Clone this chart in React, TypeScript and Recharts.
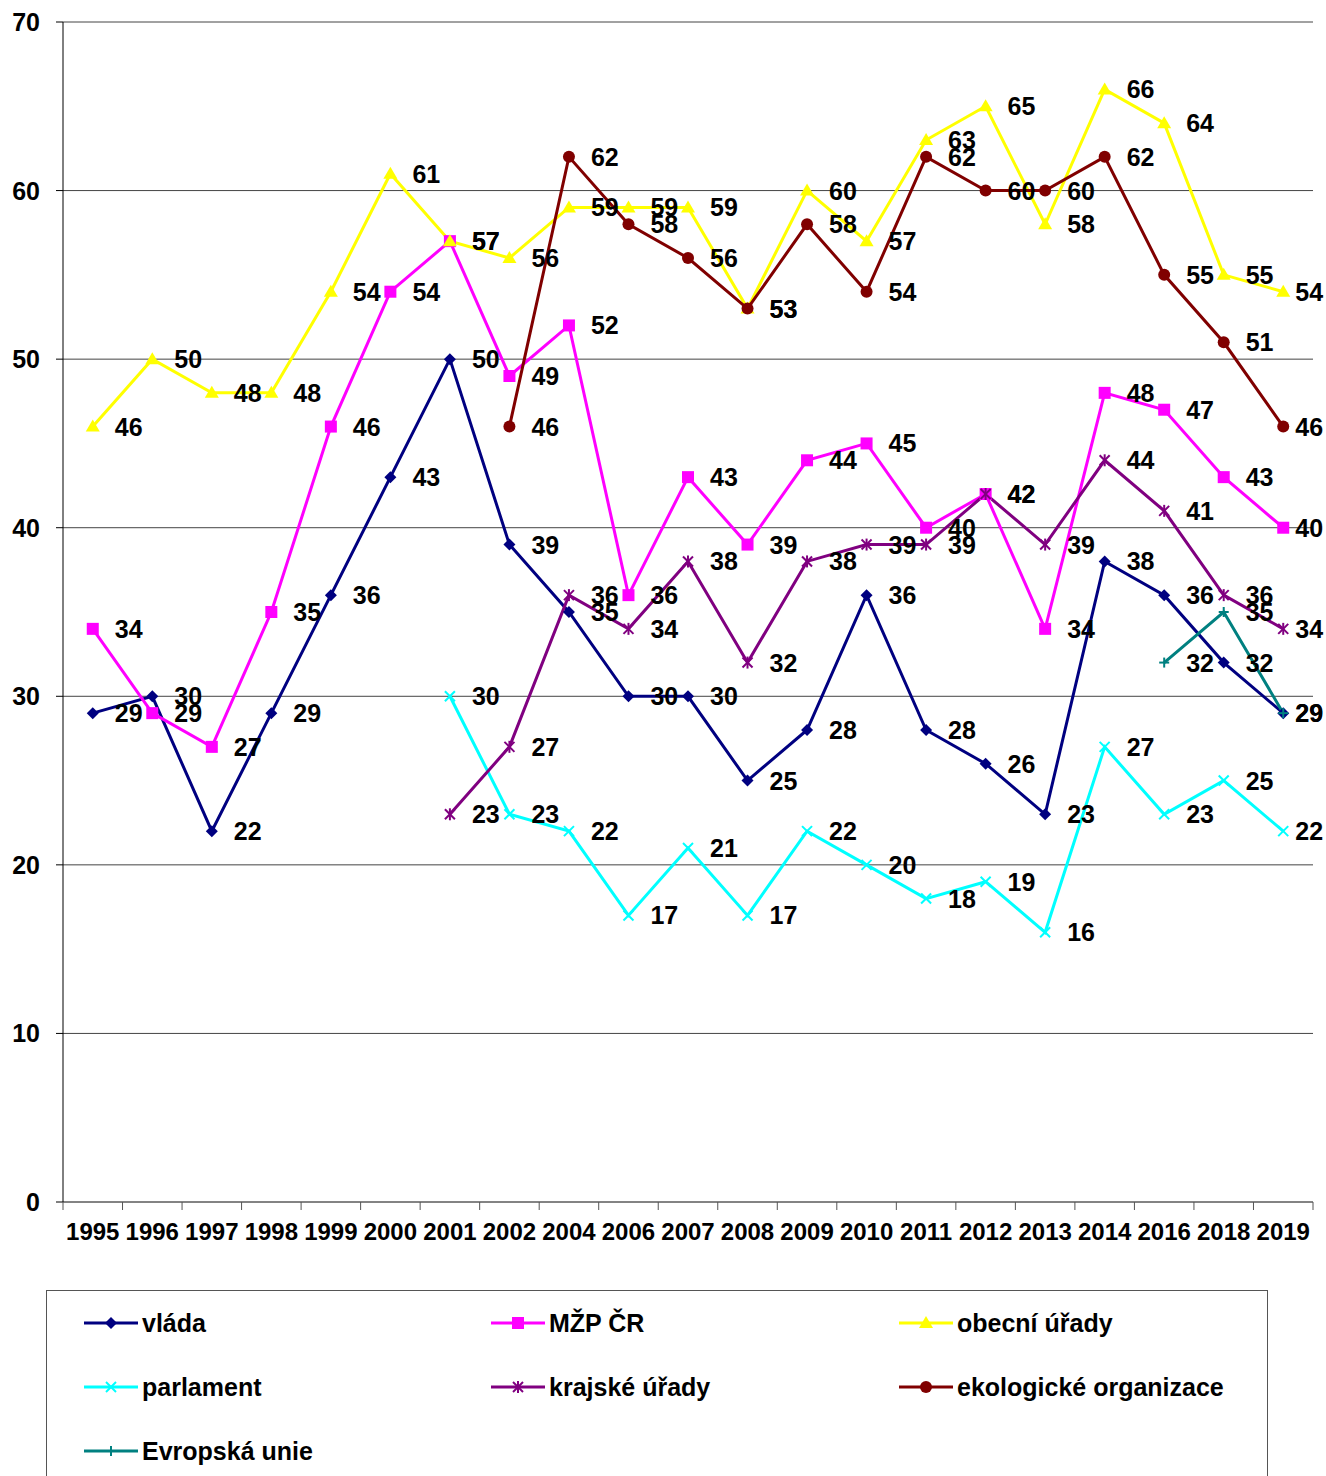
import React from 'react';
import { LineChart, Line, XAxis, YAxis, CartesianGrid, LabelList } from 'recharts';

const years = ['1995', '1996', '1997', '1998', '1999', '2000', '2001', '2002', '2004', '2006', '2007',
  '2008', '2009', '2010', '2011', '2012', '2013', '2014', '2016', '2018', '2019'];

const vlada = [29, 30, 22, 29, 36, 43, 50, 39, 35, 30, 30, 25, 28, 36, 28, 26, 23, 38, 36, 32, 29];
const mzp = [34, 29, 27, 35, 46, 54, 57, 49, 52, 36, 43, 39, 44, 45, 40, 42, 34, 48, 47, 43, 40];
const obecni = [46, 50, 48, 48, 54, 61, 57, 56, 59, 59, 59, 53, 60, 57, 63, 65, 58, 66, 64, 55, 54];
const parlament = [null, null, null, null, null, null, 30, 23, 22, 17, 21, 17, 22, 20, 18, 19, 16, 27, 23, 25, 22];
const krajske = [null, null, null, null, null, null, 23, 27, 36, 34, 38, 32, 38, 39, 39, 42, 39, 44, 41, 36, 34];
const eko = [null, null, null, null, null, null, null, 46, 62, 58, 56, 53, 58, 54, 62, 60, 60, 62, 55, 51, 46];
const eu = [null, null, null, null, null, null, null, null, null, null, null, null, null, null, null, null, null, null, 32, 35, 29];

const yTicks = [0, 10, 20, 30, 40, 50, 60, 70];

const series = [
  { key: 'vlada', name: 'vláda', color: '#000080', marker: 'diamond' },
  { key: 'mzp', name: 'MŽP ČR', color: '#FF00FF', marker: 'square' },
  { key: 'obecni', name: 'obecní úřady', color: '#FFFF00', marker: 'triangle' },
  { key: 'parlament', name: 'parlament', color: '#00FFFF', marker: 'x' },
  { key: 'krajske', name: 'krajské úřady', color: '#800080', marker: 'star' },
  { key: 'eko', name: 'ekologické organizace', color: '#800000', marker: 'circle' },
  { key: 'eu', name: 'Evropská unie', color: '#008080', marker: 'plus' },
];

const data = years.map((year, i) => ({
  year,
  vlada: vlada[i],
  mzp: mzp[i],
  obecni: obecni[i],
  parlament: parlament[i],
  krajske: krajske[i],
  eko: eko[i],
  eu: eu[i],
}));

const FONT = '"Liberation Sans", Arial, sans-serif';
const W = 1326;
const H = 1250;
const LEFT = 63;
const RIGHT = 13;
const BOTTOM_Y = 1202;
const BAND = (W - LEFT - RIGHT) / years.length;

function Marker({ type, cx, cy, color }: { type: string; cx: number; cy: number; color: string }) {
  switch (type) {
    case 'diamond':
      return <polygon points={`${cx},${cy - 6} ${cx + 6},${cy} ${cx},${cy + 6} ${cx - 6},${cy}`} fill={color} />;
    case 'square':
      return <rect x={cx - 6} y={cy - 6} width={12} height={12} fill={color} />;
    case 'triangle':
      return <polygon points={`${cx},${cy - 7} ${cx + 7},${cy + 5} ${cx - 7},${cy + 5}`} fill={color} />;
    case 'circle':
      return <circle cx={cx} cy={cy} r={6} fill={color} />;
    case 'x':
      return (
        <g stroke={color} strokeWidth={2}>
          <line x1={cx - 5} y1={cy - 5} x2={cx + 5} y2={cy + 5} />
          <line x1={cx - 5} y1={cy + 5} x2={cx + 5} y2={cy - 5} />
        </g>
      );
    case 'star':
      return (
        <g stroke={color} strokeWidth={2}>
          <line x1={cx - 5} y1={cy - 5} x2={cx + 5} y2={cy + 5} />
          <line x1={cx - 5} y1={cy + 5} x2={cx + 5} y2={cy - 5} />
          <line x1={cx} y1={cy - 6} x2={cx} y2={cy + 6} />
        </g>
      );
    case 'plus':
      return (
        <g stroke={color} strokeWidth={2}>
          <line x1={cx - 5} y1={cy} x2={cx + 5} y2={cy} />
          <line x1={cx} y1={cy - 5} x2={cx} y2={cy + 5} />
        </g>
      );
    default:
      return null;
  }
}

const XTick = (props: any) => {
  const { x, payload, index } = props;
  const left = x - BAND / 2;
  return (
    <g>
      <line x1={left} y1={BOTTOM_Y} x2={left} y2={BOTTOM_Y + 8} stroke="#555" />
      {index === years.length - 1 && (
        <line x1={x + BAND / 2} y1={BOTTOM_Y} x2={x + BAND / 2} y2={BOTTOM_Y + 8} stroke="#555" />
      )}
      <text x={x} y={BOTTOM_Y + 29} textAnchor="middle" dominantBaseline="central"
        fontSize={24} fontWeight="bold" fontFamily={FONT} fill="#000">
        {payload.value}
      </text>
    </g>
  );
};

const YTick = (props: any) => {
  const { x, y, payload } = props;
  return (
    <text x={x} y={y} textAnchor="end" dominantBaseline="central"
      fontSize={25} fontWeight="bold" fontFamily={FONT} fill="#000">
      {payload.value}
    </text>
  );
};

const renderLabel = (props: any) => {
  const { x, y, value, index } = props;
  if (value == null || x == null || y == null) return null;
  // last category: label pulled in so it stays inside the chart
  const dx = index === years.length - 1 ? 12 : 22;
  return (
    <text key={`l-${index}`} x={x + dx} y={y} dy="0.36em" fontSize={25} fontWeight="bold"
      fontFamily={FONT} fill="#000">
      {value}
    </text>
  );
};

function Legend() {
  const cols = [83, 490, 898];
  const rows = [1322, 1386, 1450];
  return (
    <div style={{ position: 'absolute', left: 46, top: 1290, width: 1222, height: 220, border: '1px solid #555', boxSizing: 'border-box' }}>
      {series.map((s, i) => {
        const cx = cols[i % 3] - 46;
        const cy = rows[Math.floor(i / 3)] - 1290;
        return (
          <div key={s.key} style={{ position: 'absolute', left: cx, top: cy - 15, height: 30, display: 'flex', alignItems: 'center', whiteSpace: 'nowrap' }}>
            <svg width={54} height={20} style={{ marginRight: 4 }}>
              <line x1={0} y1={10} x2={54} y2={10} stroke={s.color} strokeWidth={3} />
              <Marker type={s.marker} cx={27} cy={10} color={s.color} />
            </svg>
            <span style={{ fontFamily: FONT, fontWeight: 'bold', fontSize: 25, color: '#000' }}>{s.name}</span>
          </div>
        );
      })}
    </div>
  );
}

export default function App() {
  return (
    <div style={{ position: 'absolute', left: 0, top: 0, width: 1326, height: 1476, background: '#fff', overflow: 'hidden', fontFamily: FONT }}>
      <LineChart width={W} height={H} data={data} margin={{ top: 22, right: RIGHT, left: 0, bottom: 0 }}>
        <CartesianGrid vertical={false} stroke="#444" />
        <XAxis dataKey="year" interval={0} tickLine={false} axisLine={{ stroke: '#666' }}
          padding={{ left: BAND / 2, right: BAND / 2 }} height={H - BOTTOM_Y} tick={<XTick />} />
        <YAxis domain={[0, 70]} ticks={yTicks} width={LEFT} tickSize={7} tickMargin={16}
          axisLine={{ stroke: '#000' }} tickLine={{ stroke: '#000' }} tick={<YTick />} />
        {series.map((s) => (
          <Line
            key={s.key}
            dataKey={s.key}
            name={s.name}
            stroke={s.color}
            strokeWidth={3}
            isAnimationActive={false}
            connectNulls={false}
            dot={(p: any) => {
              if (p.cx == null || p.cy == null || p.value == null) return <g key={`d-${s.key}-${p.index}`} />;
              return (
                <g key={`d-${s.key}-${p.index}`}>
                  <Marker type={s.marker} cx={p.cx} cy={p.cy} color={s.color} />
                </g>
              );
            }}
            activeDot={false}
          >
            <LabelList dataKey={s.key} content={renderLabel} />
          </Line>
        ))}
      </LineChart>
      <Legend />
    </div>
  );
}
